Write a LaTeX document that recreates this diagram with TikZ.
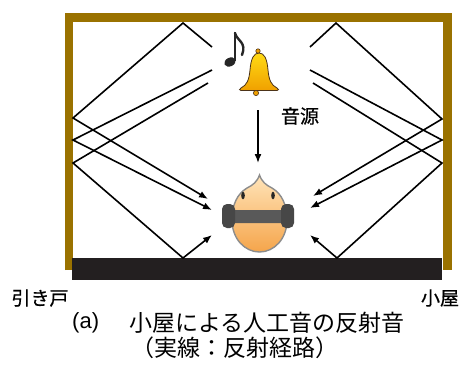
\documentclass[tikz,border=0pt]{standalone}
\usepackage{fontspec}
\usetikzlibrary{arrows.meta}
\newfontfamily\jpfont{Noto Sans CJK JP}
\newfontfamily\jpheavy[FakeBold=0.6]{Noto Sans CJK JP}
\newfontfamily\latinfont{Liberation Sans}
\definecolor{wallbrown}{RGB}{154,114,0}
\definecolor{floordark}{RGB}{35,31,32}
\definecolor{bellhi}{RGB}{255,218,20}
\definecolor{bello}{RGB}{240,160,0}
\definecolor{skinhi}{RGB}{255,228,185}
\definecolor{skinlo}{RGB}{245,165,75}
\begin{document}
\begin{tikzpicture}[x=1pt,y=-1pt,
  wall/.style={line width=8.5pt, draw=wallbrown, line join=miter},
  ray/.style={line width=1.6pt, draw=black, line join=miter},
  rayend/.style={ray, -{Latex[length=9pt,width=7pt]}},
  label/.style={inner sep=0pt, font=\jpheavy\fontsize{19}{19}\selectfont},
  caption/.style={inner sep=0pt, font=\jpfont\fontsize{23}{23}\selectfont}]
\useasboundingbox (0,0) rectangle (465,368);
\fill[white] (0,0) rectangle (465,368);

% hut walls and sliding-door floor
\draw[wall] (69,270) -- (69,17.5) -- (447.5,17.5) -- (447.5,270);
\fill[floordark] (72,258) rectangle (442,280);

% bell with note
\fill[black!85] (230,62) ellipse [x radius=6pt, y radius=4.3pt, rotate=25];
\draw[black!85, line width=1.8pt] (235,61) -- (235,32);
\draw[black!85, line width=2.4pt, line cap=round] (235,33) .. controls (237,41) and (247,42) .. (242,55);
\shade[top color=bellhi, bottom color=bello, draw=black!60!brown, line width=0.8pt]
  (241,88) .. controls (247,85) and (249,80) .. (250,70)
  .. controls (251,58) and (254,53) .. (259,53)
  .. controls (264,53) and (267,58) .. (268,70)
  .. controls (269,80) and (271,85) .. (277,88)
  .. controls (279,89) and (279,90.5) .. (277,90.5) -- (241,90.5)
  .. controls (239,90.5) and (239,89) .. cycle;
\fill[bello, draw=black!60!brown, line width=0.6pt] (258,51) circle (2.2pt);
\fill[bello, draw=black!60!brown, line width=0.6pt] (256,93) circle (2.6pt);

% listener with ear muffs
\shade[top color=skinhi, bottom color=skinlo, draw=black!45, line width=1.4pt]
  (259.5,175) .. controls (262,182) and (266,185) .. (272,188)
  .. controls (282,194) and (287,205) .. (287,220)
  .. controls (287,239) and (274,252) .. (259.5,252)
  .. controls (245,252) and (232,239) .. (232,220)
  .. controls (232,205) and (237,194) .. (247,188)
  .. controls (253,185) and (257,182) .. cycle;
\fill[black!85] (243,195.5) ellipse [x radius=1.8pt, y radius=3.8pt];
\fill[black!85] (273,195.5) ellipse [x radius=1.8pt, y radius=3.8pt];
\fill[black!65, rounded corners=5pt] (226,210) rectangle (291,223);
\fill[black!72, rounded corners=5pt] (222,204) rectangle (235,228);
\fill[black!72, rounded corners=5pt] (281,204) rectangle (294,228);

% reflection points
\coordinate (srcLa) at (212,47);  \coordinate (topL) at (183,23);
\coordinate (wallLa) at (73,118); \coordinate (headLa) at (208,199);
\coordinate (srcLb) at (212,70);  \coordinate (wallLb) at (73,140);
\coordinate (headLb) at (212,210);
\coordinate (srcLc) at (208,83);  \coordinate (wallLc) at (73,163);
\coordinate (floorL) at (183,258); \coordinate (headLc) at (212,235);
\coordinate (srcRa) at (310,47);  \coordinate (topR) at (336,23);
\coordinate (wallRa) at (442,119); \coordinate (headRa) at (313,196);
\coordinate (srcRb) at (310,70);  \coordinate (wallRb) at (442,140);
\coordinate (headRb) at (310,208);
\coordinate (srcRc) at (313,83);  \coordinate (wallRc) at (442,163);
\coordinate (floorR) at (337,258); \coordinate (headRc) at (310,235);
\coordinate (bellfoot) at (258,110); \coordinate (headtop) at (258,163);

% reflected paths
\draw[rayend] (srcLa) -- (topL) -- (wallLa) -- (headLa);
\draw[rayend] (srcLb) -- (wallLb) -- (headLb);
\draw[rayend] (srcLc) -- (wallLc) -- (floorL) -- (headLc);
\draw[rayend] (srcRa) -- (topR) -- (wallRa) -- (headRa);
\draw[rayend] (srcRb) -- (wallRb) -- (headRb);
\draw[rayend] (srcRc) -- (wallRc) -- (floorR) -- (headRc);
\draw[rayend] (bellfoot) -- (headtop);

% labels
\node[label] (source) at (300,116) {音源};
\node[label] (door) at (40,298) {引き戸};
\node[label] (hut) at (440,298) {小屋};
\node[inner sep=0pt, font=\latinfont\fontsize{22}{22}\selectfont, anchor=west] (tag) at (72,323) {(a)};
\node[caption] (title) at (267,323) {小屋による人工音の反射音};
\node[caption] (note) at (234.5,348) {（実線：反射経路）};
\end{tikzpicture}
\end{document}
